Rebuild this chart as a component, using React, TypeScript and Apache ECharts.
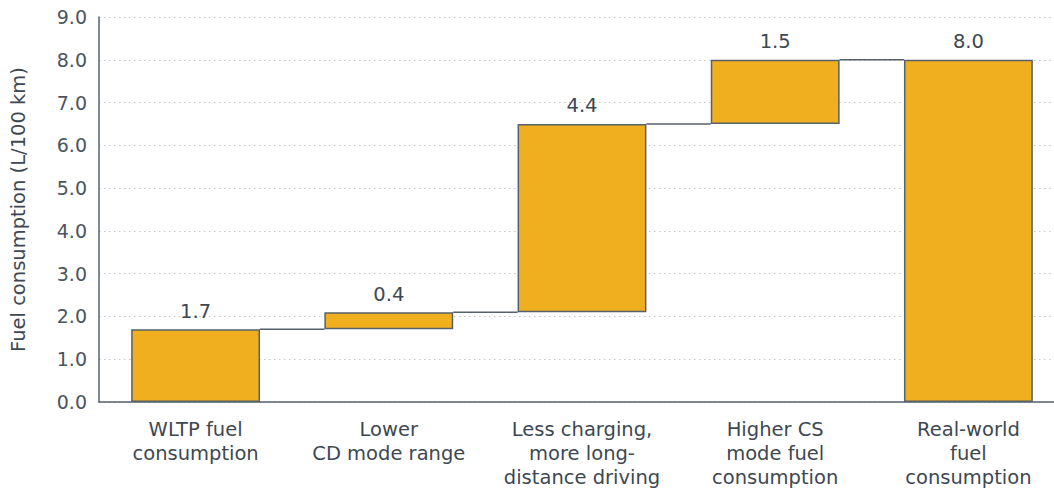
import React, { useEffect, useRef } from "react";
import * as echarts from "echarts";

const categories = [
  "WLTP fuel\nconsumption",
  "Lower\nCD mode range",
  "Less charging,\nmore long-\ndistance driving",
  "Higher CS\nmode fuel\nconsumption",
  "Real-world\nfuel\nconsumption",
];
const deltas = [1.7, 0.4, 4.4, 1.5, 8.0];
const bases = [0, 1.7, 2.1, 6.5, 0];
const connectorLevels = [1.7, 2.1, 6.5, 8.0];

const TEXT = "#3d4852";
const FONT = "'DejaVu Sans', sans-serif";

export default function App() {
  const ref = useRef<HTMLDivElement>(null);
  useEffect(() => {
    if (!ref.current) return;
    const chart = echarts.init(ref.current, null, { renderer: "svg" });
    chart.setOption({
      animation: false,
      grid: { left: 97, right: 0, top: 17, bottom: 91, containLabel: false },
      xAxis: {
        type: "category",
        data: categories,
        axisTick: { show: false },
        axisLine: { lineStyle: { color: "#56616b", width: 1.5 } },
        axisLabel: {
          color: TEXT,
          fontFamily: FONT,
          fontSize: 19.5,
          lineHeight: 24,
          margin: 15,
          interval: 0,
        },
      },
      yAxis: {
        type: "value",
        min: 0,
        max: 9,
        interval: 1,
        name: "Fuel consumption (L/100 km)",
        nameLocation: "middle",
        nameGap: 71,
        nameTextStyle: { color: TEXT, fontFamily: FONT, fontSize: 19.5 },
        axisLine: { show: true, lineStyle: { color: "#56616b", width: 1.5 } },
        axisTick: { show: false },
        axisLabel: {
          color: "#4a5560",
          fontFamily: FONT,
          fontSize: 19,
          margin: 12,
          formatter: (v: number) => v.toFixed(1),
        },
        splitLine: { show: true, lineStyle: { color: "#c6c6c6", type: [1.5, 3.5], width: 1.2 } },
      },
      series: [
        {
          type: "custom",
          z: 1,
          renderItem: (params: any, api: any) => {
            const i = api.value(0);
            const lvl = api.value(1);
            const p0 = api.coord([i, lvl]);
            const p1 = api.coord([i + 1, lvl]);
            const bw = api.size([1, 0])[0];
            return {
              type: "line",
              shape: { x1: p0[0] + bw / 3, y1: p0[1], x2: p1[0] - bw / 3, y2: p1[1] },
              style: { stroke: "#56616b", lineWidth: 1.5 },
            };
          },
          data: connectorLevels.map((v, i) => [i, v]),
        },
        {
          type: "bar",
          stack: "w",
          z: 2,
          barCategoryGap: "33.3%",
          itemStyle: { color: "transparent" },
          silent: true,
          data: bases,
        },
        {
          type: "bar",
          stack: "w",
          z: 2,
          barCategoryGap: "33.3%",
          itemStyle: { color: "#f0af1f", borderColor: "#56616b", borderWidth: 1.5 },
          label: {
            show: true,
            position: "top",
            distance: 8,
            color: TEXT,
            fontFamily: FONT,
            fontSize: 19.5,
            formatter: (p: any) => Number(p.value).toFixed(1),
          },
          data: deltas,
        },
      ],
    });
    return () => chart.dispose();
  }, []);
  return (
    <div style={{ position: "fixed", left: 0, top: 0, width: 1054, height: 493, overflow: "hidden", background: "#fff" }}>
      <div ref={ref} style={{ width: 1065, height: 493 }} />
    </div>
  );
}
